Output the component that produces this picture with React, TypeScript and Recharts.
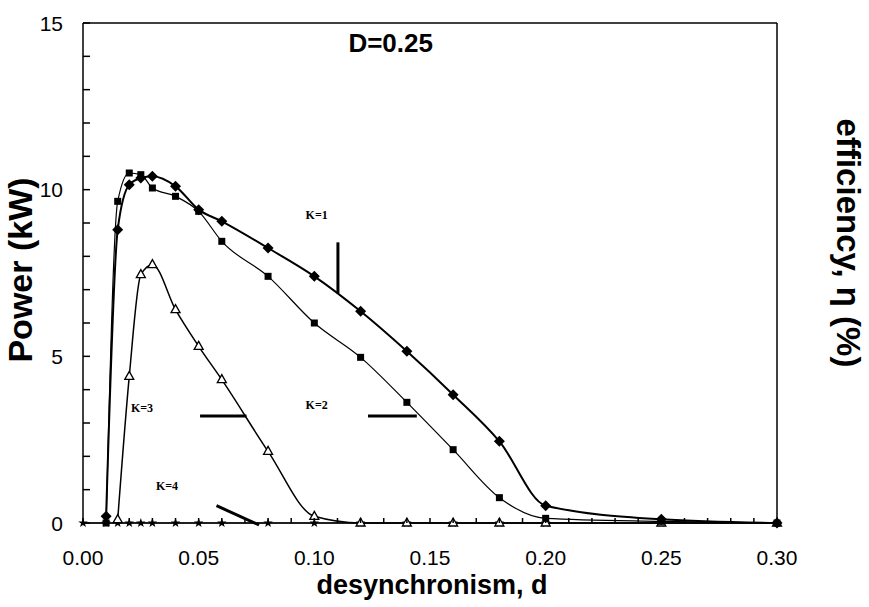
import React from 'react'
import { LineChart, Line, XAxis, YAxis, ReferenceLine, ReferenceDot, Label } from 'recharts'

// desynchronism values (d) used by the measured curves
const dK12 = [0.01, 0.015, 0.02, 0.025, 0.03, 0.04, 0.05, 0.06, 0.08, 0.1, 0.12, 0.14, 0.16, 0.18, 0.2, 0.25, 0.3]
const powerK1 = [0.2, 8.8, 10.15, 10.35, 10.4, 10.1, 9.4, 9.05, 8.25, 7.4, 6.35, 5.15, 3.85, 2.45, 0.52, 0.11, 0]
const powerK2 = [0, 9.65, 10.5, 10.45, 10.05, 9.8, 9.35, 8.45, 7.4, 6.0, 4.97, 3.62, 2.2, 0.76, 0.14, 0.05, 0]

const dK3 = [0.015, 0.02, 0.025, 0.03, 0.04, 0.05, 0.06, 0.08, 0.1, 0.12, 0.14, 0.16, 0.18, 0.2, 0.25, 0.3]
const powerK3 = [0.1, 4.4, 7.45, 7.75, 6.4, 5.3, 4.3, 2.15, 0.2, 0, 0, 0, 0, 0, 0, 0]

const dK4 = [0, 0.01, 0.015, 0.02, 0.025, 0.03, 0.04, 0.05, 0.06, 0.08, 0.1, 0.12, 0.14, 0.16, 0.18, 0.2, 0.25, 0.3]
const powerK4 = [0, 0, 0, 0, 0, 0, 0, 0, 0, 0, 0, 0, 0, 0, 0, 0, 0, 0]

// axis ticks (minor ticks carry an empty label)
const xTicks = Array.from({ length: 31 }, (_, i) => i / 100)
const leftTicks = Array.from({ length: 16 }, (_, i) => i)
const rightTicks = Array.from({ length: 51 }, (_, i) => i / 50)

// curve labels and pointer strokes, in data units (d, kW)
const curveLabels = [
  { text: 'K=1', d: 0.101, p: 9.24 },
  { text: 'K=2', d: 0.101, p: 3.54 },
  { text: 'K=3', d: 0.0255, p: 3.45 },
  { text: 'K=4', d: 0.0363, p: 1.11 },
]
const pointers = [
  [{ x: 0.1102, y: 8.42 }, { x: 0.1102, y: 6.89 }],
  [{ x: 0.1232, y: 3.21 }, { x: 0.1443, y: 3.21 }],
  [{ x: 0.0506, y: 3.21 }, { x: 0.0707, y: 3.21 }],
  [{ x: 0.0577, y: 0.52 }, { x: 0.0761, y: -0.06 }],
]

const toRows = (ds: number[], ps: number[]) => ds.map((d, i) => ({ d, p: ps[i] }))
const k1 = toRows(dK12, powerK1)
const k2 = toRows(dK12, powerK2)
const k3 = toRows(dK3, powerK3)
const k4 = toRows(dK4, powerK4)

const font = 'Arial, "Liberation Sans", Helvetica, sans-serif'
const TICK_FONT = 21

const xLabel = (v: number) => (Math.round(v * 100) % 5 === 0 ? v.toFixed(2) : '')
const leftLabel = (v: number) => (v % 5 === 0 ? String(v) : '')
const rightLabel = (v: number) => (Math.round(v * 50) % 10 === 0 ? String(Math.round(v * 10) / 10) : '')

// ticks point into the plot, so the tick mark is drawn here along with the label
const makeTick = (side: 'bottom' | 'left' | 'right', margin: number, len: number, fmt: (v: number) => string) => (props: any) => {
  const { x, y, payload, index } = props
  const label = fmt(payload.value)
  if (side === 'bottom') {
    const ay = y - margin
    return (
      <g key={`t-${side}-${index}`}>
        <line x1={x} x2={x} y1={ay} y2={ay - len} stroke="#000" strokeWidth={1.5} />
        {label && <text x={x} y={y} dy="0.71em" textAnchor="middle" fontSize={TICK_FONT} fontFamily={font} fill="#000">{label}</text>}
      </g>
    )
  }
  if (side === 'left') {
    const ax = x + margin
    return (
      <g key={`t-${side}-${index}`}>
        <line x1={ax} x2={ax + len} y1={y} y2={y} stroke="#000" strokeWidth={1.5} />
        {label && <text x={x} y={y} dy="0.36em" textAnchor="end" fontSize={TICK_FONT} fontFamily={font} fill="#000">{label}</text>}
      </g>
    )
  }
  const ax = x - margin
  return (
    <g key={`t-${side}-${index}`}>
      <line x1={ax} x2={ax - len} y1={y} y2={y} stroke="#000" strokeWidth={1.5} />
      {label && <text x={x} y={y} dy="0.36em" textAnchor="start" fontSize={TICK_FONT} fontFamily={font} fill="#000">{label}</text>}
    </g>
  )
}

const Diamond = (props: any) => {
  const { cx, cy, index } = props
  if (cx == null || cy == null) return null
  const r = 5.5
  return <polygon key={`dia-${index}`} points={`${cx},${cy - r} ${cx + r},${cy} ${cx},${cy + r} ${cx - r},${cy}`} fill="#000" />
}

const Square = (props: any) => {
  const { cx, cy, index } = props
  if (cx == null || cy == null) return null
  return <rect key={`sq-${index}`} x={cx - 3.5} y={cy - 3.5} width={7} height={7} fill="#000" />
}

const Triangle = (props: any) => {
  const { cx, cy, index } = props
  if (cx == null || cy == null) return null
  return (
    <polygon
      key={`tri-${index}`}
      points={`${cx},${cy - 5} ${cx + 4.5},${cy + 3} ${cx - 4.5},${cy + 3}`}
      fill="#fff"
      stroke="#000"
      strokeWidth={1.3}
    />
  )
}

const Star = (props: any) => {
  const { cx, cy, index } = props
  if (cx == null || cy == null) return null
  const pts: string[] = []
  for (let i = 0; i < 10; i++) {
    const r = i % 2 === 0 ? 5 : 2
    const a = -Math.PI / 2 + (i * Math.PI) / 5
    pts.push(`${cx + r * Math.cos(a)},${cy + r * Math.sin(a)}`)
  }
  return <polygon key={`st-${index}`} points={pts.join(' ')} fill="#000" />
}

export default function App() {
  return (
    <div style={{ position: 'absolute', left: 0, top: 0, width: 869, height: 607, background: '#fff' }}>
      <LineChart width={869} height={607} margin={{ top: 23, right: 0, bottom: 0, left: 0 }}>
        <XAxis
          dataKey="d"
          type="number"
          domain={[0, 0.3]}
          ticks={xTicks}
          interval={0}
          allowDuplicatedCategory={false}
          height={84}
          stroke="#000"
          strokeWidth={1.5}
          tickLine={false}
          tickSize={0}
          tickMargin={27}
          tick={makeTick('bottom', 27, 5, xLabel)}
        >
          <Label
            content={() => (
              <text x={432} y={594} textAnchor="middle" fontFamily={font} fontWeight="bold" fontSize={27} fill="#000">
                desynchronism, d
              </text>
            )}
          />
        </XAxis>
        <YAxis
          yAxisId="left"
          type="number"
          domain={[0, 15]}
          ticks={leftTicks}
          interval={0}
          width={83}
          stroke="#000"
          strokeWidth={1.5}
          tickLine={false}
          tickSize={0}
          tickMargin={20}
          tick={makeTick('left', 20, 7, leftLabel)}
        >
          <Label
            content={() => (
              <text x={20} y={270} transform="rotate(-90 20 270)" textAnchor="middle" dominantBaseline="central" fontFamily={font} fontWeight="bold" fontSize={34} fill="#000">
                Power (kW)
              </text>
            )}
          />
        </YAxis>
        <YAxis
          yAxisId="right"
          orientation="right"
          type="number"
          domain={[0, 1]}
          ticks={rightTicks}
          interval={0}
          width={92}
          stroke="#000"
          strokeWidth={1.5}
          tickLine={false}
          tickSize={0}
          tickMargin={20}
          tick={makeTick('right', 20, 5, rightLabel)}
        >
          <Label
            content={() => (
              <text x={848} y={243} transform="rotate(90 848 243)" textAnchor="middle" dominantBaseline="central" fontFamily={font} fontWeight="bold" fontSize={33} fill="#000">
                efficiency, η (%)
              </text>
            )}
          />
        </YAxis>

        <ReferenceLine yAxisId="left" y={15} stroke="#000" strokeWidth={1.5} />

        <Line yAxisId="left" data={k4} dataKey="p" type="linear" stroke="#000" strokeWidth={1} dot={Star} isAnimationActive={false} />
        <Line yAxisId="left" data={k3} dataKey="p" type="monotone" stroke="#000" strokeWidth={1.5} dot={Triangle} isAnimationActive={false} />
        <Line yAxisId="left" data={k2} dataKey="p" type="monotone" stroke="#000" strokeWidth={1.2} dot={Square} isAnimationActive={false} />
        <Line yAxisId="left" data={k1} dataKey="p" type="monotone" stroke="#000" strokeWidth={2} dot={Diamond} isAnimationActive={false} />

        {pointers.map((seg, i) => (
          <ReferenceLine key={`ptr-${i}`} yAxisId="left" segment={seg} stroke="#000" strokeWidth={3} ifOverflow="visible" />
        ))}

        {curveLabels.map((c) => (
          <ReferenceDot
            key={c.text}
            yAxisId="left"
            x={c.d}
            y={c.p}
            r={0}
            fill="none"
            stroke="none"
            label={{ value: c.text, position: 'center', fontSize: 12, fontFamily: '"Liberation Serif", "DejaVu Serif", serif', fontWeight: 'bold', fill: '#000' }}
          />
        ))}

        <ReferenceDot
          yAxisId="left"
          x={0.133}
          y={14.4}
          r={0}
          fill="none"
          stroke="none"
          label={{ value: 'D=0.25', position: 'center', fontSize: 26, fontFamily: font, fontWeight: 'bold', fill: '#000' }}
        />
      </LineChart>
    </div>
  )
}
